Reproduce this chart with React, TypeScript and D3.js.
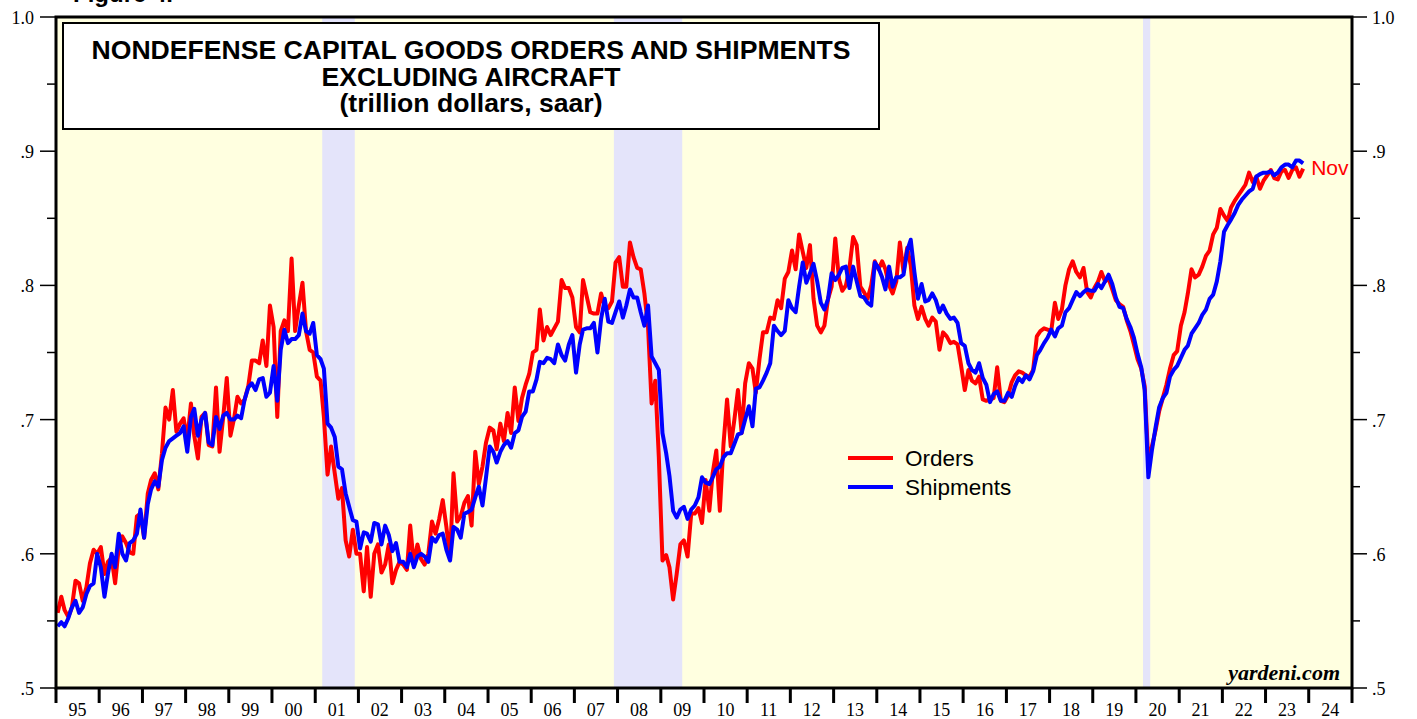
import * as d3 from 'd3';

const W = 1417;
const H = 719;
const PLOT = { left: 56, right: 1352, top: 17, bottom: 688 };

const START_YEAR = 1995;
const END_YEAR = 2025;

// monthly, trillion dollars saar, Jan 1995 .. Nov 2023
const orders = [
  0.556, 0.568, 0.558, 0.553, 0.560, 0.580, 0.578, 0.565, 0.575, 0.593, 0.603, 0.600, // 95
  0.605, 0.585, 0.594, 0.597, 0.578, 0.605, 0.613, 0.608, 0.601, 0.600, 0.628, 0.630, // 96
  0.612, 0.645, 0.655, 0.660, 0.648, 0.675, 0.709, 0.700, 0.722, 0.691, 0.697, 0.701, // 97
  0.685, 0.712, 0.688, 0.671, 0.702, 0.705, 0.681, 0.680, 0.724, 0.676, 0.702, 0.731, // 98
  0.688, 0.701, 0.717, 0.712, 0.715, 0.725, 0.744, 0.744, 0.742, 0.759, 0.740, 0.785, // 99
  0.769, 0.702, 0.766, 0.774, 0.766, 0.820, 0.766, 0.785, 0.802, 0.766, 0.752, 0.750, // 00
  0.732, 0.729, 0.702, 0.659, 0.680, 0.660, 0.641, 0.649, 0.610, 0.598, 0.618, 0.600, // 01
  0.600, 0.572, 0.605, 0.568, 0.600, 0.607, 0.586, 0.592, 0.607, 0.578, 0.588, 0.594, // 02
  0.592, 0.588, 0.621, 0.592, 0.607, 0.596, 0.592, 0.600, 0.624, 0.615, 0.626, 0.640, // 03
  0.620, 0.597, 0.660, 0.624, 0.628, 0.638, 0.643, 0.621, 0.676, 0.652, 0.665, 0.683, // 04
  0.694, 0.692, 0.678, 0.697, 0.684, 0.705, 0.690, 0.724, 0.699, 0.716, 0.726, 0.734, // 05
  0.750, 0.752, 0.782, 0.759, 0.769, 0.763, 0.768, 0.773, 0.804, 0.798, 0.798, 0.791, // 06
  0.769, 0.765, 0.804, 0.792, 0.780, 0.779, 0.779, 0.794, 0.784, 0.783, 0.788, 0.817, // 07
  0.821, 0.799, 0.799, 0.832, 0.821, 0.813, 0.812, 0.794, 0.769, 0.712, 0.729, 0.672, // 08
  0.595, 0.599, 0.590, 0.566, 0.585, 0.607, 0.610, 0.598, 0.630, 0.630, 0.634, 0.623, // 09
  0.655, 0.632, 0.660, 0.677, 0.632, 0.682, 0.715, 0.680, 0.700, 0.722, 0.690, 0.727, // 10
  0.742, 0.738, 0.720, 0.745, 0.765, 0.765, 0.776, 0.775, 0.789, 0.783, 0.805, 0.810, // 11
  0.826, 0.812, 0.838, 0.825, 0.813, 0.830, 0.790, 0.770, 0.765, 0.770, 0.790, 0.799, // 12
  0.835, 0.805, 0.796, 0.800, 0.813, 0.836, 0.830, 0.799, 0.795, 0.790, 0.800, 0.818, // 13
  0.812, 0.818, 0.812, 0.800, 0.794, 0.803, 0.832, 0.810, 0.828, 0.815, 0.785, 0.775, // 14
  0.784, 0.775, 0.770, 0.776, 0.773, 0.752, 0.765, 0.762, 0.757, 0.758, 0.756, 0.740, // 15
  0.722, 0.737, 0.729, 0.727, 0.732, 0.715, 0.714, 0.715, 0.716, 0.739, 0.714, 0.713, // 16
  0.718, 0.728, 0.733, 0.736, 0.735, 0.733, 0.732, 0.737, 0.762, 0.766, 0.768, 0.767, // 17
  0.766, 0.787, 0.775, 0.782, 0.800, 0.812, 0.818, 0.810, 0.806, 0.813, 0.795, 0.791, // 18
  0.798, 0.803, 0.810, 0.803, 0.805, 0.797, 0.789, 0.786, 0.784, 0.774, 0.766, 0.756, // 19
  0.745, 0.738, 0.725, 0.668, 0.680, 0.692, 0.706, 0.716, 0.726, 0.738, 0.748, 0.751, // 20
  0.770, 0.780, 0.794, 0.812, 0.806, 0.808, 0.814, 0.822, 0.826, 0.838, 0.843, 0.857, // 21
  0.852, 0.848, 0.858, 0.863, 0.867, 0.871, 0.875, 0.884, 0.877, 0.881, 0.872, 0.878, // 22
  0.882, 0.886, 0.880, 0.879, 0.885, 0.886, 0.880, 0.886, 0.888, 0.881, 0.887, // 23
];

const shipments = [
  0.546, 0.549, 0.546, 0.552, 0.560, 0.565, 0.556, 0.560, 0.570, 0.576, 0.578, 0.600, // 95
  0.590, 0.568, 0.585, 0.600, 0.590, 0.615, 0.600, 0.595, 0.608, 0.610, 0.615, 0.633, // 96
  0.612, 0.637, 0.648, 0.654, 0.650, 0.670, 0.679, 0.684, 0.686, 0.688, 0.690, 0.695, // 97
  0.676, 0.702, 0.708, 0.688, 0.700, 0.705, 0.683, 0.681, 0.702, 0.693, 0.703, 0.705, // 98
  0.700, 0.700, 0.703, 0.701, 0.715, 0.724, 0.727, 0.722, 0.730, 0.731, 0.717, 0.720, // 99
  0.740, 0.714, 0.752, 0.767, 0.757, 0.760, 0.760, 0.763, 0.779, 0.766, 0.764, 0.772, // 00
  0.748, 0.745, 0.738, 0.697, 0.694, 0.687, 0.665, 0.663, 0.645, 0.635, 0.625, 0.624, // 01
  0.604, 0.616, 0.615, 0.609, 0.623, 0.622, 0.607, 0.621, 0.614, 0.602, 0.608, 0.594, // 02
  0.594, 0.590, 0.600, 0.590, 0.598, 0.600, 0.598, 0.594, 0.612, 0.609, 0.614, 0.615, // 03
  0.603, 0.595, 0.620, 0.618, 0.612, 0.630, 0.631, 0.633, 0.642, 0.650, 0.636, 0.657, // 04
  0.680, 0.676, 0.668, 0.676, 0.681, 0.684, 0.679, 0.690, 0.692, 0.702, 0.706, 0.721, // 05
  0.721, 0.730, 0.743, 0.742, 0.746, 0.745, 0.742, 0.756, 0.748, 0.744, 0.756, 0.763, // 06
  0.735, 0.756, 0.767, 0.768, 0.768, 0.772, 0.750, 0.775, 0.790, 0.773, 0.772, 0.780, // 07
  0.788, 0.776, 0.785, 0.797, 0.791, 0.791, 0.780, 0.770, 0.785, 0.747, 0.742, 0.737, // 08
  0.690, 0.675, 0.658, 0.632, 0.627, 0.633, 0.635, 0.626, 0.633, 0.636, 0.642, 0.657, // 09
  0.653, 0.652, 0.657, 0.663, 0.665, 0.672, 0.675, 0.675, 0.682, 0.689, 0.690, 0.700, // 10
  0.710, 0.695, 0.723, 0.724, 0.729, 0.735, 0.742, 0.770, 0.766, 0.763, 0.766, 0.789, // 11
  0.783, 0.780, 0.799, 0.817, 0.802, 0.809, 0.816, 0.803, 0.787, 0.782, 0.790, 0.809, // 12
  0.804, 0.808, 0.813, 0.814, 0.798, 0.814, 0.803, 0.792, 0.791, 0.787, 0.785, 0.817, // 13
  0.813, 0.806, 0.797, 0.814, 0.799, 0.806, 0.806, 0.808, 0.826, 0.834, 0.810, 0.790, // 14
  0.801, 0.788, 0.789, 0.794, 0.789, 0.780, 0.785, 0.779, 0.775, 0.776, 0.772, 0.757, // 15
  0.755, 0.742, 0.737, 0.735, 0.742, 0.731, 0.726, 0.713, 0.719, 0.721, 0.714, 0.714, // 16
  0.720, 0.717, 0.725, 0.731, 0.728, 0.733, 0.730, 0.736, 0.748, 0.752, 0.757, 0.761, // 17
  0.767, 0.762, 0.768, 0.770, 0.780, 0.783, 0.789, 0.795, 0.792, 0.795, 0.797, 0.796, // 18
  0.796, 0.801, 0.798, 0.803, 0.808, 0.801, 0.791, 0.784, 0.783, 0.775, 0.769, 0.761, // 19
  0.749, 0.739, 0.722, 0.657, 0.677, 0.694, 0.709, 0.716, 0.720, 0.732, 0.737, 0.740, // 20
  0.746, 0.752, 0.755, 0.764, 0.768, 0.772, 0.778, 0.782, 0.790, 0.793, 0.803, 0.818, // 21
  0.840, 0.845, 0.849, 0.854, 0.860, 0.864, 0.867, 0.870, 0.872, 0.881, 0.883, 0.884, // 22
  0.884, 0.885, 0.882, 0.884, 0.888, 0.890, 0.890, 0.888, 0.893, 0.893, 0.891, // 23
];

const recessions = [
  ['2001-03-01', '2001-12-01'],
  ['2007-12-01', '2009-07-01'],
  ['2020-03-01', '2020-05-01'],
];

const yTicks = [0.5, 0.6, 0.7, 0.8, 0.9, 1.0];
const yTickLabels = ['.5', '.6', '.7', '.8', '.9', '1.0'];
const yMinorTicks = [0.55, 0.65, 0.75, 0.85, 0.95];

const titleLines = [
  'NONDEFENSE CAPITAL GOODS ORDERS AND SHIPMENTS',
  'EXCLUDING AIRCRAFT',
  '(trillion dollars, saar)',
];

const SERIF = '"Liberation Serif", "Times New Roman", serif';
const SANS = '"Liberation Sans", Arial, sans-serif';
const RED = '#ff0000';
const BLUE = '#0000ff';

const monthDate = (i: number) =>
  d3.timeDay.offset(d3.timeMonth.offset(new Date(START_YEAR, 0, 1), i), 14);

export default function App() {
  const x = d3
    .scaleTime()
    .domain([new Date(START_YEAR, 0, 1), new Date(END_YEAR, 0, 1)])
    .range([PLOT.left, PLOT.right]);
  const y = d3.scaleLinear().domain([0.5, 1.0]).range([PLOT.bottom, PLOT.top]);

  const line = d3
    .line<number>()
    .x((_, i) => x(monthDate(i)))
    .y((d) => y(d));

  const years = d3.range(START_YEAR, END_YEAR + 1);
  const yearLabels = d3.range(START_YEAR, END_YEAR);
  const last = orders.length - 1;

  return (
    <svg
      width={W}
      height={H}
      viewBox={`0 0 ${W} ${H}`}
      style={{ position: 'absolute', left: 0, top: 0, background: '#fff' }}
    >
      <text x={73} y={1.5} fontFamily={SANS} fontWeight="bold" fontSize={24}>
        Figure 4.
      </text>

      <rect
        x={PLOT.left}
        y={PLOT.top}
        width={PLOT.right - PLOT.left}
        height={PLOT.bottom - PLOT.top}
        fill="#ffffe0"
      />
      {recessions.map(([a, b], i) => (
        <rect
          key={i}
          x={x(new Date(a))}
          y={PLOT.top}
          width={x(new Date(b)) - x(new Date(a))}
          height={PLOT.bottom - PLOT.top}
          fill="#e4e4fa"
        />
      ))}

      <rect x={63} y={23} width={816} height={106} fill="#fff" stroke="#000" strokeWidth={2} />
      {titleLines.map((t, i) => (
        <text
          key={i}
          x={471}
          y={59 + i * 26.5}
          textAnchor="middle"
          fontFamily={SANS}
          fontWeight="bold"
          fontSize={26.6}
        >
          {t}
        </text>
      ))}

      <path d={line(orders) ?? ''} fill="none" stroke={RED} strokeWidth={4} strokeLinejoin="round" />
      <path d={line(shipments) ?? ''} fill="none" stroke={BLUE} strokeWidth={4} strokeLinejoin="round" />

      <text
        x={x(monthDate(last)) + 8}
        y={175}
        fill={RED}
        fontFamily={SANS}
        fontSize={21}
      >
        Nov
      </text>

      <line x1={848} x2={893} y1={458} y2={458} stroke={RED} strokeWidth={4} />
      <text x={905} y={466} fontFamily={SANS} fontSize={22.5}>Orders</text>
      <line x1={848} x2={893} y1={487} y2={487} stroke={BLUE} strokeWidth={4} />
      <text x={905} y={495} fontFamily={SANS} fontSize={22.5}>Shipments</text>

      <text
        x={1340}
        y={680}
        textAnchor="end"
        fontFamily={SERIF}
        fontWeight="bold"
        fontStyle="italic"
        fontSize={22}
      >
        yardeni.com
      </text>

      <rect
        x={PLOT.left}
        y={PLOT.top}
        width={PLOT.right - PLOT.left}
        height={PLOT.bottom - PLOT.top}
        fill="none"
        stroke="#000"
        strokeWidth={3}
      />

      {yTicks.map((t, i) => (
        <g key={t}>
          <line x1={40} x2={PLOT.left} y1={y(t)} y2={y(t)} stroke="#000" strokeWidth={1.5} />
          <line x1={PLOT.right} x2={1367} y1={y(t)} y2={y(t)} stroke="#000" strokeWidth={1.5} />
          <text x={34} y={y(t) + 7} textAnchor="end" fontFamily={SERIF} fontSize={18}>
            {yTickLabels[i]}
          </text>
          <text x={1372} y={y(t) + 7} fontFamily={SERIF} fontSize={18}>
            {yTickLabels[i]}
          </text>
        </g>
      ))}
      {yMinorTicks.map((t) => (
        <g key={t}>
          <line x1={47} x2={PLOT.left} y1={y(t)} y2={y(t)} stroke="#000" strokeWidth={1.5} />
          <line x1={PLOT.right} x2={1360} y1={y(t)} y2={y(t)} stroke="#000" strokeWidth={1.5} />
        </g>
      ))}

      {years.map((yr) => (
        <line
          key={yr}
          x1={x(new Date(yr, 0, 1))}
          x2={x(new Date(yr, 0, 1))}
          y1={PLOT.bottom}
          y2={703}
          stroke="#000"
          strokeWidth={3}
        />
      ))}
      {yearLabels.map((yr) => (
        <text
          key={yr}
          x={x(new Date(yr, 6, 1))}
          y={716}
          textAnchor="middle"
          fontFamily={SERIF}
          fontSize={18}
        >
          {String(yr % 100).padStart(2, '0')}
        </text>
      ))}
    </svg>
  );
}
